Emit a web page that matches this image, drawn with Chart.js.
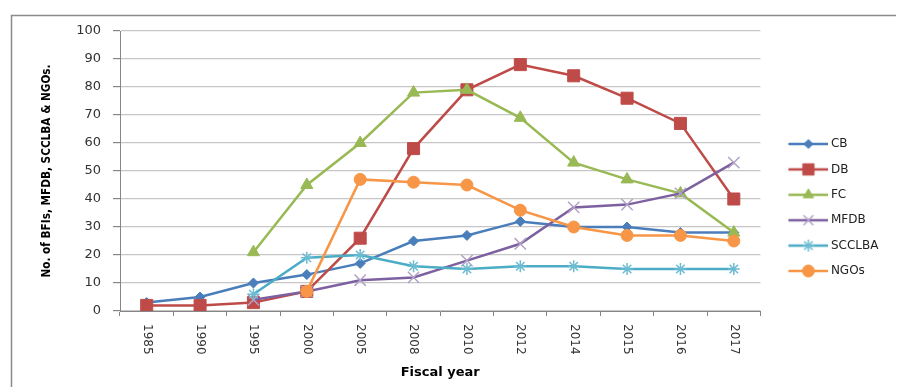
<!DOCTYPE html>
<html>
<head>
<meta charset="utf-8">
<title>BFIs, MFDB, SCCLBA and NGOs by fiscal year</title>
<script src="https://cdn.jsdelivr.net/npm/chart.js@4/dist/chart.umd.min.js"></script>
<style>
  html, body { margin: 0; padding: 0; background: #fff; }
  #wrap { width: 897px; height: 387px; }
</style>
</head>
<body>
<div id="wrap"><canvas id="bfiChart" width="897" height="387"></canvas></div>
<script>
// Fiscal years on the x axis
const years = ['1985', '1990', '1995', '2000', '2005', '2008', '2010', '2012', '2014', '2015', '2016', '2017'];

// Number of institutions per year
const cb     = [3, 5, 10, 13, 17, 25, 27, 32, 30, 30, 28, 28];
const db     = [2, 2, 3, 7, 26, 58, 79, 88, 84, 76, 67, 40];
const fc     = [null, null, 21, 45, 60, 78, 79, 69, 53, 47, 42, 28];
const mfdb   = [null, null, 4, 7, 11, 12, 18, 24, 37, 38, 42, 53];
const scclba = [null, null, 6, 19, 20, 16, 15, 16, 16, 15, 15, 15];
const ngos   = [null, null, null, 7, 47, 46, 45, 36, 30, 27, 27, 25];

const yMin = 0, yMax = 100, yStep = 10;

const seriesNames = ['CB', 'DB', 'FC', 'MFDB', 'SCCLBA', 'NGOs'];

Chart.defaults.font.family = '"DejaVu Sans", Verdana, sans-serif';
Chart.defaults.color = '#333';

// line + marker look for each series
const styles = [
    { line: '#4A7EBB', marker: '#4A7EBB', shape: 'rectRot',  radius: 5,   legendRadius: 4.5, bw: 1 },
    { line: '#BE4B48', marker: '#BE4B48', shape: 'rect',     radius: 8.5, legendRadius: 8,   bw: 1 },
    { line: '#98B954', marker: '#98B954', shape: 'triangle', radius: 7,   legendRadius: 6,   bw: 1 },
    { line: '#7D60A0', marker: '#B3A2C7', shape: 'crossRot', radius: 8,   legendRadius: 7,   bw: 1.5 },
    { line: '#4BACC6', marker: '#6CBCD2', shape: 'star',     radius: 6,   legendRadius: 6,   bw: 1.5 },
    { line: '#F79646', marker: '#F79646', shape: 'circle',   radius: 6,   legendRadius: 6,   bw: 1 }
];

// small line-with-marker images used as legend symbols
const ICON_BOX = 51;
const ICON_W = 58;
function legendIcon(st) {
    const c = document.createElement('canvas');
    c.width = ICON_W;
    c.height = 20;
    const g = c.getContext('2d');
    g.strokeStyle = st.line;
    g.lineWidth = 2.5;
    g.beginPath();
    g.moveTo(18, 10);
    g.lineTo(58, 10);
    g.stroke();
    g.fillStyle = st.marker;
    g.strokeStyle = st.marker;
    g.lineWidth = st.bw;
    const cx = 38;
    if (Chart.helpers && Chart.helpers.drawPoint) {
        Chart.helpers.drawPoint(g, { pointStyle: st.shape, radius: st.legendRadius, rotation: 0, borderWidth: st.bw }, cx, 10);
    } else {
        g.beginPath();
        g.arc(cx, 10, st.legendRadius, 0, Math.PI * 2);
        g.fill();
    }
    return c;
}
const icons = styles.map(legendIcon);

const values = [cb, db, fc, mfdb, scclba, ngos];
const datasets = values.map((data, i) => ({
    label: seriesNames[i],
    data: data,
    borderColor: styles[i].line,
    backgroundColor: styles[i].marker,
    borderWidth: 2.5,
    pointStyle: styles[i].shape,
    pointRadius: styles[i].radius,
    pointBorderWidth: styles[i].bw,
    pointBorderColor: styles[i].marker,
    pointBackgroundColor: styles[i].marker,
    tension: 0,
    order: values.length - i   // later series on top
}));

// frame around the whole chart
const framePlugin = {
    id: 'frame',
    beforeDraw(chart) {
        const ctx = chart.ctx;
        ctx.save();
        ctx.fillStyle = '#fff';
        ctx.fillRect(0, 0, chart.width, chart.height);
        ctx.strokeStyle = '#8a8a8a';
        ctx.lineWidth = 1.5;
        ctx.beginPath();
        ctx.moveTo(11.5, chart.height);
        ctx.lineTo(11.5, 15.5);
        ctx.lineTo(chart.width - 1, 15.5);
        ctx.stroke();
        ctx.restore();
    }
};

// year labels turned 90 degrees clockwise under the x axis
const yearLabelsPlugin = {
    id: 'yearLabels',
    afterDraw(chart) {
        const xs = chart.scales.x;
        const ctx = chart.ctx;
        ctx.save();
        ctx.font = '12px "DejaVu Sans", Verdana, sans-serif';
        ctx.fillStyle = '#333';
        ctx.textAlign = 'left';
        ctx.textBaseline = 'middle';
        years.forEach((label, i) => {
            ctx.save();
            ctx.translate(xs.getPixelForValue(i), xs.top + 13);
            ctx.rotate(Math.PI / 2);
            ctx.fillText(label, 0, 0);
            ctx.restore();
        });
        ctx.restore();
    }
};

new Chart(document.getElementById('bfiChart'), {
    type: 'line',
    data: { labels: years, datasets: datasets },
    options: {
        responsive: false,
        animation: false,
        layout: { padding: { left: 32, top: 31, right: 8.6, bottom: 3 } },
        plugins: {
            tooltip: { enabled: false },
            legend: {
                position: 'right',
                align: 'center',
                labels: {
                    usePointStyle: true,
                    pointStyleWidth: ICON_BOX,
                    padding: 13.4,
                    color: '#222',
                    font: { size: 12 },
                    sort: (a, b) => a.datasetIndex - b.datasetIndex,
                    generateLabels(chart) {
                        const items = Chart.defaults.plugins.legend.labels.generateLabels(chart);
                        items.forEach(it => { it.pointStyle = icons[it.datasetIndex]; });
                        return items;
                    }
                }
            }
        },
        scales: {
            x: {
                type: 'category',
                offset: true,
                afterFit(scale) { scale.height = 73; },
                grid: {
                    offset: true,
                    drawOnChartArea: false,
                    drawTicks: true,
                    tickLength: 5,
                    color: '#868686'
                },
                border: { color: '#868686', width: 1 },
                ticks: { display: false },
                title: {
                    display: true,
                    text: 'Fiscal year',
                    color: '#000',
                    font: { size: 13, weight: 'bold' },
                    padding: { top: 0, bottom: 4 }
                }
            },
            y: {
                min: yMin,
                max: yMax,
                afterFit(scale) { scale.width = 88; },
                ticks: {
                    stepSize: yStep,
                    padding: 12,
                    color: '#333',
                    font: { size: 13 }
                },
                grid: {
                    color: '#c6c6c6',
                    lineWidth: 1.2,
                    tickLength: 7,
                    tickColor: '#868686'
                },
                border: { color: '#868686', width: 1 },
                title: {
                    display: true,
                    text: 'No. of BFIs, MFDB, SCCLBA & NGOs.',
                    color: '#000',
                    font: { family: '"Liberation Sans Narrow", "DejaVu Sans Condensed", sans-serif', size: 11.7, weight: 'bold' },
                    padding: { top: 8, bottom: 0 }
                }
            }
        }
    },
    plugins: [framePlugin, yearLabelsPlugin]
});
</script>
</body>
</html>
